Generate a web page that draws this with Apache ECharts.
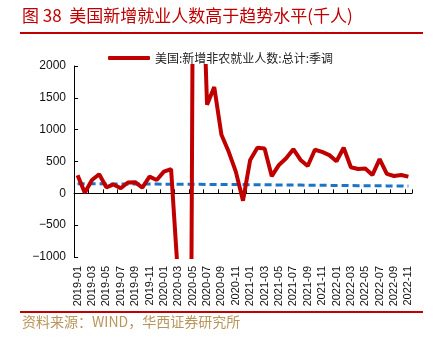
<!DOCTYPE html>
<html><head><meta charset="utf-8">
<script src="https://cdn.jsdelivr.net/npm/echarts@6/dist/echarts.min.js"></script>
<style>html,body{margin:0;padding:0;background:#fff}#c{width:436px;height:341px}</style>
</head><body><div id="c"></div>
<script>
const categories = ['2019-01','2019-02','2019-03','2019-04','2019-05','2019-06','2019-07','2019-08','2019-09','2019-10','2019-11','2019-12',
'2020-01','2020-02','2020-03','2020-04','2020-05','2020-06','2020-07','2020-08','2020-09','2020-10','2020-11','2020-12',
'2021-01','2021-02','2021-03','2021-04','2021-05','2021-06','2021-07','2021-08','2021-09','2021-10','2021-11','2021-12',
'2022-01','2022-02','2022-03','2022-04','2022-05','2022-06','2022-07','2022-08','2022-09','2022-10','2022-11'];
const payrolls = [285,10,210,300,95,140,80,170,175,90,262,210,
340,380,-1373,-20493,2725,4781,1391,1670,919,656,341,-115,
525,715,705,270,446,551,693,525,430,685,650,600,
505,715,410,383,390,289,537,305,273,289,263];
const trend = [150,150,149,149,148,148,147,147,146,146,145,145,
144,144,143,142,142,141,140,140,139,138,138,137,
136,135,134,133,132,131,130,129,128,127,126,125,
124,123,122,121,120,119,118,117,116,116,115];
const seriesName = '美国:新增非农就业人数:总计:季调';
const yTicks = [-1000,-500,0,500,1000,1500,2000];

const chart = echarts.init(document.getElementById('c'));
chart.setOption({
  animation:false,
  backgroundColor:'#fff',
  grid:{left:74,right:24,top:66,bottom:84},
  legend:{data:[seriesName],top:47,left:103,itemWidth:42,itemHeight:4,icon:'roundRect',itemGap:6,
    textStyle:{fontSize:12,color:'#222',fontFamily:'Noto Sans CJK SC'}},
  xAxis:[
    {type:'category',data:categories,boundaryGap:true,position:'bottom',
     axisLine:{show:false,onZero:false},axisTick:{show:false},
     axisLabel:{interval:1,rotate:90,fontSize:11,color:'#111',margin:9,fontFamily:'Liberation Sans'}},
    {type:'category',data:categories,boundaryGap:true,position:'bottom',
     axisLine:{show:true,onZero:true,lineStyle:{color:'#000',width:1}},
     axisTick:{show:true,inside:true,interval:1,length:4,lineStyle:{color:'#000'}},
     axisLabel:{show:false}}
  ],
  yAxis:{type:'value',min:yTicks[0],max:yTicks[yTicks.length-1],interval:500,
    splitLine:{show:false},
    axisLine:{show:true,lineStyle:{color:'#000',width:1}},
    axisTick:{show:true,inside:true,length:4,lineStyle:{color:'#000'}},
    axisLabel:{fontSize:12,color:'#111',margin:8,fontFamily:'Liberation Sans',
      formatter:v=>v<0?'\u2212'+Math.abs(v):String(v)}},
  series:[
    {name:'趋势水平',type:'line',data:trend,xAxisIndex:0,showSymbol:false,symbol:'none',
     lineStyle:{color:'#1B75C6',width:3,type:[7,4]},z:2},
    {name:seriesName,type:'line',data:payrolls,xAxisIndex:0,showSymbol:false,symbol:'none',clip:true,
     lineStyle:{color:'#C00000',width:4},itemStyle:{color:'#C00000'},z:3}
  ],
  graphic:[
    {type:'text',left:22,top:7,style:{text:'图 38  美国新增就业人数高于趋势水平(千人)',fill:'#C00000',
      font:'17px "Noto Sans CJK SC"'}},
    {type:'rect',shape:{x:20,y:32,width:403,height:2},style:{fill:'#C00000'}},
    {type:'rect',shape:{x:20,y:311,width:403,height:2},style:{fill:'#C00000'}},
    {type:'text',left:22,top:315,style:{text:'资料来源：WIND，华西证券研究所',fill:'#B8955A',
      font:'14px "Noto Sans CJK SC"'}}
  ]
});
</script></body></html>
